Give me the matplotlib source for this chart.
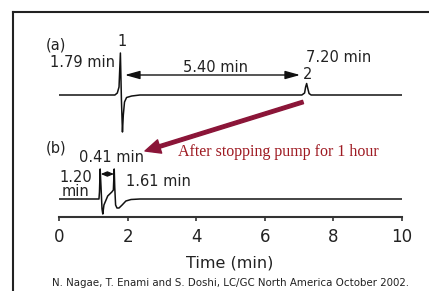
import matplotlib
matplotlib.use("Agg")
import matplotlib.pyplot as plt
from matplotlib.lines import Line2D
from matplotlib.patches import FancyArrowPatch

# trace (a): time in min, signal (arbitrary units)
time_a = [0.0, 1.63, 1.70, 1.75, 1.79, 1.82, 1.85, 1.875, 1.91, 1.97, 2.12, 2.36,
          7.08, 7.16, 7.19, 7.22, 7.25, 7.29, 7.35, 10.0]
signal_a = [122, 122, 124, 130, 164, 117, 85, 102, 115, 119.5, 121, 122,
            122, 124, 130, 133.5, 129, 123.5, 122, 122]

# trace (b)
time_b = [0.0, 1.165, 1.18, 1.20, 1.225, 1.254, 1.277, 1.31, 1.42, 1.54, 1.585,
          1.60, 1.61, 1.625, 1.65, 1.69, 1.75, 1.84, 1.95, 2.10, 2.36, 10.0]
signal_b = [18, 18, 25, 48, 30, 8, 3, 12, 21, 25, 27,
            40, 48, 30, 12, 9, 9, 12, 16, 17.5, 18, 18]

x_ticks = [0, 2, 4, 6, 8, 10]

W, H = 429, 291
fig = plt.figure(figsize=(W / 100, H / 100), dpi=100)
fig.patch.set_facecolor("white")

# frame round the slide picture (only top and left edges visible)
fig.add_artist(Line2D([13 / W, 1], [1 - 12 / H, 1 - 12 / H], color="#222222", lw=1.5))
fig.add_artist(Line2D([13 / W, 13 / W], [1 - 12 / H, 0], color="#222222", lw=1.5))

ax = fig.add_axes([59 / W, 74 / H, 343 / W, 197 / H])
ax.set_xlim(0, 10)
ax.set_ylim(0, 197)
ax.patch.set_alpha(0)
for s in ["left", "right", "top"]:
    ax.spines[s].set_visible(False)
ax.spines["bottom"].set_color("#333333")
ax.spines["bottom"].set_linewidth(1.5)
ax.set_yticks([])
ax.set_xticks(x_ticks)
ax.tick_params(axis="x", direction="out", length=3, width=1.2, color="#333333",
               labelsize=12, pad=5, labelcolor="#222222")

ax.plot(time_a, signal_a, color="#111111", lw=1.1)
ax.plot(time_b, signal_b, color="#111111", lw=1.1)

txt = dict(color="#222222", fontsize=10.5, ha="center", va="center")
# (a) labels
ax.text(-0.09, 172, "(a)", **txt)
ax.text(1.84, 176, "1", **txt)
ax.text(0.69, 155, "1.79 min", **txt)
ax.text(4.56, 150, "5.40 min", **txt)
ax.text(8.15, 159.5, "7.20 min", **txt)
ax.text(7.26, 143, "2", **txt)
ax.annotate("", xy=(1.92, 142), xytext=(7.03, 142),
            arrowprops=dict(arrowstyle="<|-|>,head_length=0.9,head_width=0.25",
                            color="#111111", lw=1.0, mutation_scale=10,
                            shrinkA=0, shrinkB=0))

# (b) labels
ax.text(-0.09, 69, "(b)", **txt)
ax.text(1.53, 59.5, "0.41 min", **txt)
ax.text(0.48, 32.5, "1.20\nmin", linespacing=0.95, **txt)
ax.text(2.9, 35, "1.61 min", **txt)
ax.annotate("", xy=(1.22, 43), xytext=(1.60, 43),
            arrowprops=dict(arrowstyle="<|-|>,head_length=0.35,head_width=0.15",
                            color="#111111", lw=0.8, mutation_scale=10,
                            shrinkA=0, shrinkB=0))

# red note and arrow
fig.text(178 / W, 1 - 152 / H, "After stopping pump for 1 hour", color="#9e1a22",
         fontsize=11.5, family="Liberation Serif", ha="left", va="center")
fig.add_artist(FancyArrowPatch(
    (303 / W, 1 - 102 / H), (145 / W, 1 - 151 / H), transform=fig.transFigure,
    arrowstyle="simple,head_length=1.1,head_width=1.0,tail_width=0.25",
    mutation_scale=10, color="#8b1538", shrinkA=0, shrinkB=0))

fig.text(230 / W, 1 - 263 / H, "Time (min)", color="#222222", fontsize=11.5,
         ha="center", va="center")
fig.text(230 / W, 1 - 283 / H,
         "N. Nagae, T. Enami and S. Doshi, LC/GC North America October 2002.",
         color="#222222", fontsize=7.4, ha="center", va="center")

fig.savefig("out.png", dpi=100)
